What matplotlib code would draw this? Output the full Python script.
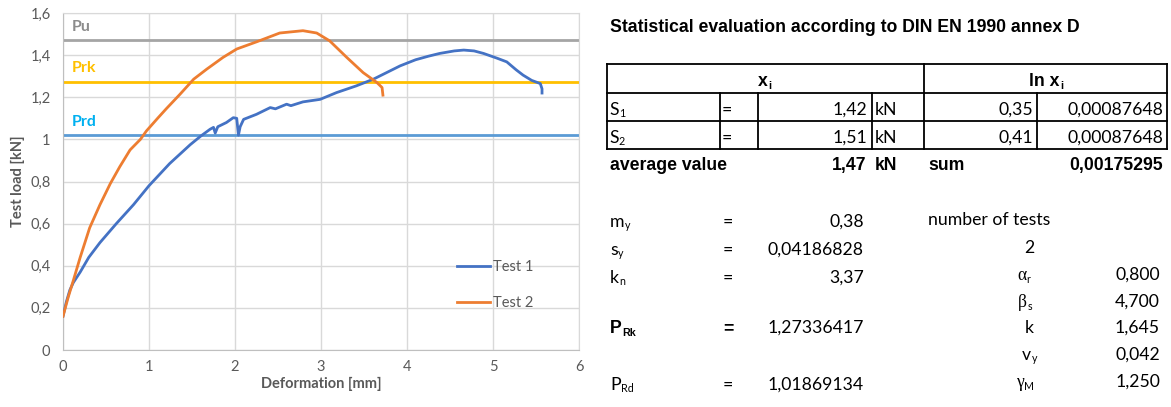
import numpy as np
import matplotlib.pyplot as plt
from matplotlib.ticker import FuncFormatter, MultipleLocator

# load-deformation curves
t1_def = [0.0, 0.04, 0.08, 0.12, 0.2, 0.3, 0.43, 0.62, 0.82, 1.0, 1.24, 1.48, 1.6, 1.71, 1.75, 1.77, 1.8, 1.9,
          1.98, 2.02, 2.04, 2.06, 2.1, 2.25, 2.41, 2.47, 2.6, 2.65, 2.79, 2.99,
          3.18, 3.41, 3.61, 3.92, 4.1, 4.25, 4.38, 4.55, 4.66, 4.78, 4.89, 5.05, 5.16, 5.27,
          5.35, 5.45, 5.55, 5.57, 5.57]
t1_load = [0.16, 0.23, 0.285, 0.32, 0.37, 0.44, 0.51, 0.60, 0.69, 0.78, 0.885, 0.975, 1.015, 1.048, 1.057, 1.03, 1.06, 1.08,
           1.103, 1.10, 1.02, 1.06, 1.095, 1.119, 1.151, 1.145, 1.167, 1.16, 1.178, 1.19,
           1.222, 1.254, 1.286, 1.349, 1.378, 1.395, 1.408, 1.42, 1.424, 1.42, 1.408, 1.385, 1.368, 1.33,
           1.305, 1.28, 1.265, 1.24, 1.22]

t2_def = [0.0, 0.06, 0.12, 0.2, 0.31, 0.43, 0.55, 0.66, 0.78, 0.9, 0.97, 1.1, 1.2, 1.36, 1.52,
          1.67, 1.86, 2.02, 2.25, 2.52, 2.79, 2.95, 3.1, 3.3, 3.49, 3.65, 3.71, 3.72]
t2_load = [0.16, 0.25, 0.33, 0.44, 0.58, 0.69, 0.79, 0.87, 0.95, 1.0, 1.04, 1.10, 1.145, 1.214, 1.286,
           1.333, 1.389, 1.429, 1.463, 1.505, 1.516, 1.505, 1.468, 1.389, 1.317, 1.27, 1.246, 1.21]

# reference levels
levels = [1.47, 1.273, 1.019]
level_names = ['Pu', 'Prk', 'Prd']
level_colors = ['#A5A5A5', '#FFC000', '#5B9BD5']
name_colors = ['#8C8C8C', '#FFC000', '#00B0F0']

# table content
s_names = ['1', '2']
s_values = ['1,42', '1,51']
ln_values = ['0,35', '0,41']
ln_dev = ['0,00087648', '0,00087648']
avg_value = '1,47'
sum_value = '0,00175295'
left_vals = ['0,38', '0,04186828', '3,37', '1,27336417', '1,01869134']
right_vals = ['0,800', '4,700', '1,645', '0,042', '1,250']

CAL = ['Lato', 'DejaVu Sans']
ARI = ['Liberation Sans', 'DejaVu Sans']
GREEK = ['Liberation Serif', 'DejaVu Serif']
GRAY = '#595959'

fig = plt.figure(figsize=(11.71, 4.07), dpi=100)

# ---------------- chart ----------------
ax = fig.add_axes([63 / 1171, 57 / 407, 516 / 1171, 337 / 407])
ax.plot(t1_def, t1_load, color='#4472C4', lw=2, label='Test 1', zorder=3)
ax.plot(t2_def, t2_load, color='#ED7D31', lw=2, label='Test 2', zorder=3)
for lev, name, lc, nc in zip(levels, level_names, level_colors, name_colors):
    ax.axhline(lev, color=lc, lw=2, zorder=2)
    ax.annotate(name, xy=(0.1, lev), xytext=(0, 9.7), textcoords='offset points',
                color=nc, fontsize=11.5, fontweight='bold', family=CAL, va='center')

ax.set_xlim(0, 6)
ax.set_ylim(0, 1.6)
ax.xaxis.set_major_locator(MultipleLocator(1))
ax.yaxis.set_major_locator(MultipleLocator(0.2))
fmt = FuncFormatter(lambda v, p: ('%g' % round(v, 2)).replace('.', ','))
ax.xaxis.set_major_formatter(fmt)
ax.yaxis.set_major_formatter(fmt)
ax.grid(color='#D9D9D9', lw=1)
ax.set_axisbelow(True)
for s in ax.spines.values():
    s.set_color('#D9D9D9')
ax.spines['left'].set_color('#BFBFBF')
ax.spines['bottom'].set_color('#BFBFBF')
ax.tick_params(length=0, labelsize=10.5, labelcolor=GRAY)
ax.tick_params(axis='y', pad=9)
ax.tick_params(axis='x', pad=7)
for lab in ax.get_xticklabels() + ax.get_yticklabels():
    lab.set_family(CAL)
ax.set_xlabel('Deformation [mm]', fontsize=10.5, fontweight='bold', color=GRAY, family=CAL, labelpad=2)
ax.set_ylabel('Test load [kN]', fontsize=10.5, fontweight='bold', color=GRAY, family=CAL, labelpad=4)
ax.legend(loc='center left', bbox_to_anchor=(0.763, 0.193), frameon=False, handlelength=2.26,
          handletextpad=0.2, labelspacing=1.55, borderpad=0, borderaxespad=0,
          prop={'family': CAL, 'size': 10.5}, labelcolor=GRAY)

# ---------------- table ----------------
tax = fig.add_axes([0, 0, 1, 1])
tax.set_xlim(0, 1171)
tax.set_ylim(407, 0)
tax.axis('off')


def sub_text(x, y, base, low, size=12.7, bold=False, family=CAL, ha='left', low_family=None):
    w = 'bold' if bold else 'normal'
    t = tax.text(x, y, base, fontsize=size, fontweight=w, family=family, ha=ha, va='baseline')
    tax.annotate(low, xy=(1, 0), xycoords=t, xytext=(0.3, -1), textcoords='offset points',
                 fontsize=size * 0.6, fontweight=w, family=low_family or family,
                 ha='left', va='bottom')
    return t


def cell(x, y, s, ha='left', bold=False, family=CAL, size=12.7):
    tax.text(x, y, s, fontsize=size, fontweight='bold' if bold else 'normal',
             family=family, ha=ha, va='baseline')


tax.text(610, 32, 'Statistical evaluation according to DIN EN 1990 annex D', fontsize=12.7,
         fontweight='bold', family=ARI, va='baseline')

# grid lines of the table
x0, x1 = 607, 1167
rows = [64, 93, 121, 149]
for y in rows:
    tax.plot([x0, x1], [y, y], color='black', lw=1.3, solid_capstyle='projecting')
for x in [607, 924, 1167]:
    tax.plot([x, x], [rows[0], rows[-1]], color='black', lw=1.3)
for x in [720, 758, 872, 1037]:
    tax.plot([x, x], [rows[1], rows[-1]], color='black', lw=1.3)

sub_text(758, 86, 'x', 'i', bold=True, family=ARI)
sub_text(1029, 86, 'ln x', 'i', bold=True, family=ARI)

for i in range(2):
    yb = 115 + 28 * i
    sub_text(609, yb, 'S', s_names[i])
    cell(722, yb, '=')
    cell(867, yb, s_values[i], ha='right')
    cell(875, yb, 'kN')
    cell(1033, yb, ln_values[i], ha='right')
    cell(1163, yb, ln_dev[i], ha='right')

cell(610, 170, 'average value', bold=True, family=ARI)
cell(866, 170, avg_value, ha='right', bold=True, family=ARI)
cell(875, 170, 'kN', bold=True, family=ARI)
cell(928, 170, 'sum', bold=True, family=ARI)
cell(1163, 170, sum_value, ha='right', bold=True, family=ARI)

# lower block, left side
left_y = [227, 255, 283, 333, 390]
sub_text(610, left_y[0], 'm', 'y')
sub_text(610, left_y[1], 's', 'y')
sub_text(610, left_y[2], 'k', 'n')
sub_text(610, left_y[3], 'P', 'Rk', bold=True, family=ARI)
sub_text(610, left_y[4], 'P', 'Rd')
for i, y in enumerate(left_y):
    cell(728, y, '=', ha='center', bold=(i == 3), family=ARI if i == 3 else CAL)
    cell(864, y, left_vals[i], ha='right')

# lower block, right side
cell(928, 225, 'number of tests')
cell(1034, 253, '2', ha='right')
right_y = [280, 307, 333, 360, 387]
sub_text(1017, right_y[0], 'α', 'r', family=GREEK, low_family=CAL)
sub_text(1018, right_y[1], 'β', 's', family=GREEK, low_family=CAL)
cell(1034, right_y[2], 'k', ha='right')
sub_text(1022, right_y[3], 'v', 'y')
sub_text(1016, right_y[4], 'γ', 'M', family=GREEK, low_family=CAL)
for y, v in zip(right_y, right_vals):
    cell(1160, y, v, ha='right')

plt.savefig('out.png', dpi=100)
